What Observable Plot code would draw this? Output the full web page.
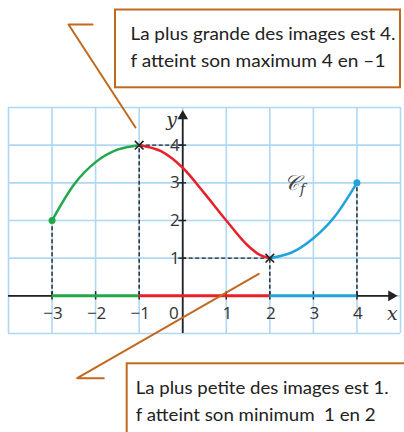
<!DOCTYPE html>
<html><head><meta charset="utf-8">
<script src="https://cdn.jsdelivr.net/npm/d3@7"></script>
<script src="https://cdn.jsdelivr.net/npm/@observablehq/plot@0.6"></script>
<style>body{margin:0;background:#fff;} #chart svg{display:block;}</style>
</head><body><div id="chart"></div>
<script>
// ---- data ----
const greenX = [-3, -2.5, -2, -1.5, -1];
const greenY = [2, 2.95, 3.55, 3.88, 4];
const redX = [-1, -0.5, 0, 0.5, 1, 1.5, 1.75, 2];
const redY = [4, 3.84, 3.4, 2.72, 2.0, 1.33, 1.1, 1];
const blueX = [2, 2.5, 3, 3.5, 4];
const blueY = [1, 1.15, 1.53, 2.12, 3];

const gridX = [-4, -3, -2, -1, 0, 1, 2, 3, 4, 5];
const gridY = [-1, 0, 1, 2, 3, 4, 5];
const xTicks = [-3, -2, -1, 1, 2, 3, 4];
const xTickLabels = ["−3", "−2", "−1", "1", "2", "3", "4"];
const yTicks = [1, 2, 3, 4];
const yTickLabels = ["1", "2", "3", "4"];

const endPoints = [{x: -3, y: 2, c: "#22a84a"}, {x: 4, y: 3, c: "#1ea3dd"}];
const extrema = [{x: -1, y: 4}, {x: 2, y: 1}];
const dashV = [{x: -3, y: 2}, {x: -1, y: 4}, {x: 2, y: 1}, {x: 4, y: 3}];
const dashH = [{x: -1, y: 4}, {x: 2, y: 1}];
const axisSegs = [
  {x1: -3, x2: -1, c: "#22a84a"},
  {x1: -1, x2: 2, c: "#e8202a"},
  {x1: 2, x2: 4, c: "#1ea3dd"}
];

// callouts (data units)
const topBox = [{x1: -1.543, x2: 5.0, y1: 5.523, y2: 7.588}];
const topText = [
  {x: -1.2, y: 6.779, t: "La plus grande des images est 4.", w: 265},
  {x: -1.2, y: 6.062, t: "f atteint son maximum 4 en –1", w: 255}
];
const topLeader = [{x: -2.071, y: 7.203}, {x: -2.622, y: 7.203}, {x: -1.084, y: 4.469}];
const botBox = [{x1: -1.275, x2: 5.3, y1: -3.9, y2: -1.804}];
const botText = [
  {x: -1.08, y: -2.601, t: "La plus petite des images est 1.", w: 253},
  {x: -1.08, y: -3.310, t: "f atteint son minimum  1 en 2", w: 240}
];
const botLeader = [{x: -1.812, y: -2.187}, {x: -2.423, y: -2.187}, {x: 1.747, y: 0.585}];

const pts = (xs, ys) => xs.map((x, i) => ({x, y: ys[i]}));
const brown = "#c0691f";
const ink = "#222";

const chart = Plot.plot({
  width: 404, height: 432,
  marginLeft: 8, marginRight: 4, marginTop: 107, marginBottom: 99,
  x: {domain: [-4, 5], axis: null},
  y: {domain: [-1, 5], axis: null},
  style: {background: "#fff", fontFamily: "Open Sans"},
  marks: [
    // grid
    Plot.ruleX(gridX, {x: d => d, y1: -1, y2: 5, stroke: "#b0d8f4", strokeWidth: 1.6}),
    Plot.ruleY(gridY, {y: d => d, x1: -4, x2: 5, stroke: "#b0d8f4", strokeWidth: 1.6}),
    // axes
    Plot.ruleY([0], {x1: -4, x2: 4.85, stroke: ink, strokeWidth: 1.8}),
    Plot.ruleX([0], {y1: -1, y2: 4.8, stroke: ink, strokeWidth: 1.8}),
    Plot.dot([{x: 4.79, y: 0}], {x: "x", y: "y", symbol: "triangle", r: 4, fill: ink, rotate: 90}),
    Plot.dot([{x: 0, y: 4.77}], {x: "x", y: "y", symbol: "triangle", r: 4, fill: ink}),
    // ticks
    Plot.ruleX(xTicks, {x: d => d, y1: -0.11, y2: 0.11, stroke: ink, strokeWidth: 1.5}),
    Plot.ruleY(yTicks, {y: d => d, x1: -0.09, x2: 0.09, stroke: ink, strokeWidth: 1.5}),
    // dashed guides
    Plot.ruleX(dashV, {x: "x", y1: 0, y2: "y", stroke: ink, strokeWidth: 1.4, strokeDasharray: "4,2.5"}),
    Plot.ruleY(dashH, {y: "y", x1: 0, x2: "x", stroke: ink, strokeWidth: 1.4, strokeDasharray: "4,2.5"}),
    // colored interval on x axis
    Plot.ruleY(axisSegs, {y: 0, x1: "x1", x2: "x2", stroke: "c", strokeWidth: 3}),
    // curve
    Plot.line(pts(greenX, greenY), {x: "x", y: "y", stroke: "#22a84a", strokeWidth: 2.5, curve: "monotone-x"}),
    Plot.line(pts(redX, redY), {x: "x", y: "y", stroke: "#e8202a", strokeWidth: 2.5, curve: "monotone-x"}),
    Plot.line(pts(blueX, blueY), {x: "x", y: "y", stroke: "#1ea3dd", strokeWidth: 2.5, curve: "natural"}),
    Plot.dot(endPoints, {x: "x", y: "y", fill: "c", r: 3.5}),
    Plot.dot(extrema, {x: "x", y: "y", symbol: "times", r: 4, stroke: ink, strokeWidth: 1.6}),
    // tick labels
    Plot.text(xTicks, {x: d => d, y: 0, text: (d, i) => xTickLabels[i], dy: 18, dx: 1, fontSize: 17, fill: "#333"}),
    Plot.text([0], {x: 0, y: 0, text: d => String(d), dy: 18, dx: -4, textAnchor: "end", fontSize: 17, fill: "#333"}),
    Plot.text(yTicks, {x: 0, y: d => d, text: (d, i) => yTickLabels[i], dx: -3, textAnchor: "end", fontSize: 17, fill: "#333"}),
    Plot.text(["x"], {x: 4.815, y: 0, text: d => d, dy: 18, fontSize: 19, fontStyle: "italic", fontFamily: "DejaVu Serif", fill: "#333"}),
    Plot.text(["y"], {x: 0, y: 4.68, text: d => d, dx: -11, fontSize: 19, fontStyle: "italic", fontFamily: "DejaVu Serif", fill: "#333"}),
    // curve name
    Plot.text(["𝒞"], {x: 2.5, y: 2.98, text: d => d, fontSize: 21, fontFamily: "DejaVu Serif", fontStyle: "italic", fill: "#444"}),
    Plot.text(["f"], {x: 2.5, y: 2.98, text: d => d, dx: 11, dy: 6, fontSize: 14, fontFamily: "DejaVu Serif", fontStyle: "italic", fill: "#444"}),
    // callouts
    Plot.rect(topBox, {x1: "x1", x2: "x2", y1: "y1", y2: "y2", fill: "#fff", stroke: brown, strokeWidth: 2}),
    Plot.text(topText, {x: "x", y: "y", text: "t", textAnchor: "start", lineAnchor: "bottom", fontSize: 16.5, fontFamily: "Lato", fill: "#222"}),
    Plot.line(topLeader, {x: "x", y: "y", stroke: brown, strokeWidth: 2}),
    Plot.rect(botBox, {x1: "x1", x2: "x2", y1: "y1", y2: "y2", fill: "#fff", stroke: brown, strokeWidth: 2}),
    Plot.text(botText, {x: "x", y: "y", text: "t", textAnchor: "start", lineAnchor: "bottom", fontSize: 16.5, fontFamily: "Lato", fill: "#222"}),
    Plot.line(botLeader, {x: "x", y: "y", stroke: brown, strokeWidth: 2})
  ]
});
document.getElementById("chart").appendChild(chart);
// fit callout text widths
const widths = new Map([...topText, ...botText].map(d => [d.t, d.w]));
d3.select(chart).selectAll("text").each(function() {
  const w = widths.get(this.textContent);
  if (w) { this.setAttribute("textLength", w); this.setAttribute("lengthAdjust", "spacingAndGlyphs"); }
});
</script>
</body></html>
